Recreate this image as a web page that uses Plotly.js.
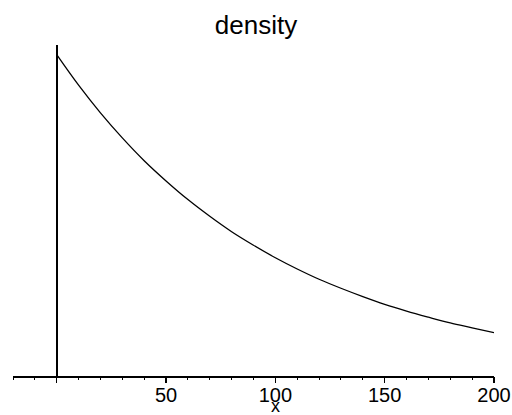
<!DOCTYPE html>
<html>
<head>
<meta charset="utf-8">
<script src="https://cdn.plot.ly/plotly-3.0.1.min.js"></script>
<style>html,body{margin:0;padding:0;background:#fff;}#chart{width:512px;height:415px;}</style>
</head>
<body>
<div id="chart"></div>
<script>
// values
const xValues = [0, 10, 20, 30, 40, 50, 60, 70, 80, 90, 100, 110, 120, 130, 140, 150, 160, 170, 180, 190, 200];
const densityValues = [0.0100, 0.00905, 0.00819, 0.00741, 0.00670, 0.00607, 0.00549, 0.00497, 0.00449, 0.00407, 0.00368, 0.00333, 0.00301, 0.00273, 0.00247, 0.00223, 0.00202, 0.00183, 0.00165, 0.00150, 0.00135];
const tickValues = [0, 50, 100, 150, 200];
const tickLabels = ['', '50', '100', '150', '200'];
const xRange = [-20, 200];
const yRange = [0, 0.0103];
const xAxisLabel = 'x';
const xAxisLabelAt = 100;

const trace = {
  x: xValues, y: densityValues, type: 'scatter', mode: 'lines',
  line: {color: '#000', width: 1.3, shape: 'spline'}, hoverinfo: 'skip'
};
// invisible trace to bring up the overlaid tick axis
const tickTrace = {x: xRange, y: [0, 0], xaxis: 'x2', yaxis: 'y', type: 'scatter', mode: 'none', hoverinfo: 'skip'};

const layout = {
  width: 512, height: 415,
  margin: {l: 13, r: 18, t: 45, b: 39},
  paper_bgcolor: '#fff', plot_bgcolor: '#fff',
  showlegend: false,
  font: {family: 'Liberation Sans, Arial, sans-serif', color: '#000'},
  title: {text: 'density', font: {size: 26, color: '#000'}, x: 0.5, xanchor: 'center', y: 0.94, yanchor: 'middle'},
  xaxis: {
    range: xRange, showgrid: false, zeroline: true, zerolinecolor: '#000', zerolinewidth: 2,
    showline: true, linecolor: '#000', linewidth: 1.5,
    tickmode: 'array', tickvals: tickValues, ticktext: tickLabels,
    ticks: '', tickfont: {size: 20, color: '#000'}
  },
  xaxis2: {
    range: xRange, overlaying: 'x', anchor: 'y', side: 'bottom', matches: 'x',
    showgrid: false, zeroline: false, showline: false, showticklabels: false,
    tickmode: 'array', tickvals: tickValues,
    ticks: 'outside', ticklen: 6, tickwidth: 1.2, tickcolor: '#000',
    minor: {dtick: 10, tick0: 0, ticks: 'outside', ticklen: 3, tickwidth: 1, tickcolor: '#000', showgrid: false}
  },
  yaxis: {range: yRange, showgrid: false, zeroline: false, showline: false, showticklabels: false, ticks: ''},
  annotations: [{
    text: xAxisLabel, xref: 'x', x: xAxisLabelAt, yref: 'paper', y: 0, yshift: -41,
    xanchor: 'center', yanchor: 'bottom', showarrow: false, borderpad: 0, font: {size: 18, color: '#000'}
  }]
};
Plotly.newPlot('chart', [trace, tickTrace], layout, {displayModeBar: false, staticPlot: true});
</script>
</body>
</html>
